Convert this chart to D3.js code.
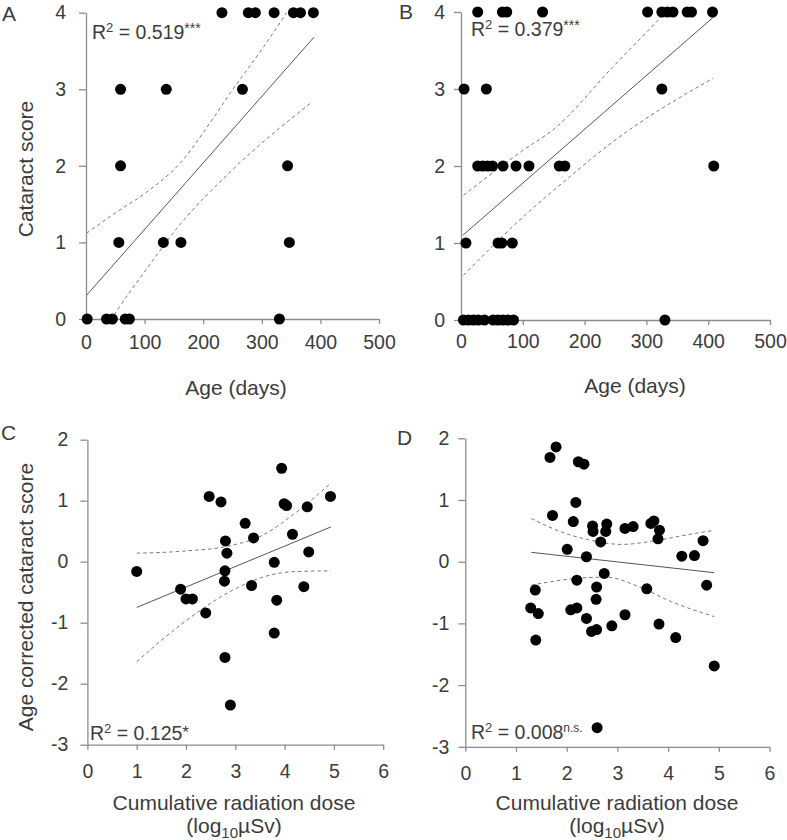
<!DOCTYPE html>
<html>
<head>
<meta charset="utf-8">
<script src="https://cdn.jsdelivr.net/npm/d3@7"></script>
<style>
  body { margin: 0; background: #fff; }
  text { font-family: "Liberation Sans", Arial, sans-serif; fill: #3c3c3c; }
</style>
</head>
<body>
<div id="chart"></div>
<script>
// ---- data ----
// A: age vs cataract score (group 1)
const ageA   = [232, 277, 289, 321, 354, 366, 388, 59, 137, 267, 59, 344, 56, 132, 162, 347, 2, 35, 45, 67, 74, 330];
const scoreA = [4, 4, 4, 4, 4, 4, 4, 3, 3, 3, 2, 2, 1, 1, 1, 1, 0, 0, 0, 0, 0, 0];
const fitA   = [[1, 0.31], [389, 3.68]];
const upperA = [[1, 1.12], [47, 1.37], [104, 1.66], [160, 2.03], [217, 2.62], [246, 2.95], [300, 3.52], [345, 4.03], [389, 4.56]];
const lowerA = [[1, -0.52], [52, 0.10], [104, 0.66], [160, 1.23], [246, 1.92], [385, 2.83]];

// B: age vs cataract score (group 2)
const ageB   = [27, 67, 74, 132, 302, 325, 334, 343, 366, 373, 407,
                5, 41, 325,
                27, 35, 43, 51, 68, 89, 110, 159, 168, 409,
                8, 60, 66, 83,
                4, 12, 20, 28, 38, 52, 60, 68, 76, 85, 330];
const scoreB = [4, 4, 4, 4, 4, 4, 4, 4, 4, 4, 4,
                3, 3, 3,
                2, 2, 2, 2, 2, 2, 2, 2, 2, 2,
                1, 1, 1, 1,
                0, 0, 0, 0, 0, 0, 0, 0, 0, 0, 0];
const fitB   = [[3, 1.10], [408, 3.93]];
const upperB = [[4, 1.62], [98, 2.19], [152, 2.49], [245, 3.28], [322, 3.92], [335, 4.03]];
const lowerB = [[4, 0.58], [98, 1.32], [170, 1.82], [245, 2.31], [408, 3.14]];

// C: dose vs age corrected score (group 1)
const doseC  = [1.00, 1.89, 2.00, 2.13, 2.40, 2.47, 2.71, 2.80, 2.83, 2.79, 2.78, 2.79, 2.90, 3.20, 3.37, 3.33,
                3.94, 3.99, 4.04, 3.79, 3.84, 3.79, 4.16, 4.46, 4.49, 4.39, 4.93];
const corrC  = [-0.16, -0.45, -0.61, -0.61, -0.84, 1.07, 0.98, 0.34, 0.14, -0.15, -0.32, -1.57, -2.35, 0.63, 0.39, -0.39,
                1.53, 0.95, 0.92, -0.01, -0.63, -1.17, 0.45, 0.90, 0.16, -0.41, 1.07];
const fitC   = [[1.0, -0.75], [4.94, 0.57]];
const upperC = [[1.0, 0.14], [1.98, 0.175], [2.94, 0.27], [3.57, 0.44], [4.25, 0.82], [4.94, 1.29]];
const lowerC = [[1.0, -1.64], [1.98, -0.98], [2.94, -0.47], [3.57, -0.25], [4.25, -0.16], [4.94, -0.15]];

// D: dose vs age corrected score (group 2)
const doseD  = [1.79, 1.67, 2.23, 2.34, 2.18, 1.72, 2.13, 2.51, 2.52, 2.79, 2.77, 2.67, 2.01, 2.39, 2.74, 2.20,
                2.59, 2.58, 1.38, 1.29, 1.44, 1.39, 2.08, 2.20, 2.39, 2.49, 2.59, 2.89, 2.60, 3.15, 3.31, 3.66,
                3.72, 3.83, 3.80, 4.27, 4.52, 4.69, 4.76, 3.58, 3.15, 3.82, 4.15, 4.91];
const corrD  = [1.86, 1.69, 1.62, 1.58, 0.96, 0.75, 0.65, 0.58, 0.49, 0.61, 0.49, 0.32, 0.20, 0.08, -0.19, -0.30,
                -0.41, -0.61, -0.46, -0.75, -0.84, -1.27, -0.78, -0.75, -0.92, -1.13, -1.10, -1.04, -2.69, 0.54, 0.57, 0.62,
                0.66, 0.51, 0.37, 0.09, 0.10, 0.34, -0.38, -0.44, -0.86, -1.01, -1.23, -1.69];
const fitD   = [[1.30, 0.152], [4.91, -0.178]];
const upperD = [[1.30, 0.70], [1.87, 0.49], [2.52, 0.34], [3.08, 0.28], [3.74, 0.34], [4.40, 0.44], [4.91, 0.51]];
const lowerD = [[1.30, -0.38], [2.20, -0.27], [2.78, -0.25], [3.41, -0.40], [4.07, -0.65], [4.91, -0.89]];

const ageTicks   = [0, 100, 200, 300, 400, 500];
const scoreTicks = [0, 1, 2, 3, 4];
const doseTicks  = [0, 1, 2, 3, 4, 5, 6];
const corrTicks  = [-3, -2, -1, 0, 1, 2];

const svg = d3.select("#chart")
    .append("svg")
    .attr("width", 787)
    .attr("height", 840);

function panel(cfg) {
    var g = svg.append("g");

    var xScale = d3.scaleLinear().domain(cfg.xDomain).range([cfg.left, cfg.right]);
    var yScale = d3.scaleLinear().domain(cfg.yDomain).range([cfg.bottom, cfg.top]);

    var clipId = "clip" + cfg.id;
    g.append("clipPath").attr("id", clipId)
        .append("rect")
        .attr("x", cfg.left).attr("y", cfg.top)
        .attr("width", cfg.right - cfg.left)
        .attr("height", cfg.bottom - cfg.top);

    // plain hyphen minus and integers, like the figure
    var fmt = d => String(d);

    var xAxis = g.append("g")
        .attr("transform", `translate(0,${cfg.bottom})`)
        .call(d3.axisBottom(xScale).tickValues(cfg.xTicks).tickFormat(fmt)
            .tickSize(5).tickSizeOuter(0).tickPadding(cfg.xPad));
    var yAxis = g.append("g")
        .attr("transform", `translate(${cfg.left},0)`)
        .call(d3.axisLeft(yScale).tickValues(cfg.yTicks).tickFormat(fmt)
            .tickSize(7).tickSizeOuter(0).tickPadding(cfg.yPad));

    [xAxis, yAxis].forEach(function(a) {
        a.attr("font-size", 19.5).attr("font-family", null).attr("color", "#8c8c8c");
        a.selectAll("path, line").attr("stroke-width", 1.3);
    });

    var line = d3.line()
        .x(d => xScale(d[0]))
        .y(d => yScale(d[1]));
    var curve = d3.line()
        .curve(d3.curveMonotoneX)
        .x(d => xScale(d[0]))
        .y(d => yScale(d[1]));

    var fits = g.append("g").attr("clip-path", `url(#${clipId})`).attr("fill", "none");
    fits.append("path").attr("d", line(cfg.fit))
        .attr("stroke", "#555").attr("stroke-width", 1);
    [cfg.upper, cfg.lower].forEach(function(band) {
        fits.append("path").attr("d", curve(band))
            .attr("stroke", "#777").attr("stroke-width", 1)
            .attr("stroke-dasharray", "3.5,3");
    });

    g.append("g").selectAll("circle")
        .data(d3.range(cfg.xs.length))
        .join("circle")
        .attr("cx", i => xScale(cfg.xs[i]))
        .attr("cy", i => yScale(cfg.ys[i]))
        .attr("r", 5.5)
        .attr("fill", "#000");

    // R squared label
    var r2 = g.append("text")
        .attr("x", cfg.r2x).attr("y", cfg.r2y)
        .attr("font-size", 19.5);
    r2.append("tspan").text("R");
    r2.append("tspan").attr("font-size", 13).attr("dy", -7).text("2");
    r2.append("tspan").attr("dy", 7).text(" = " + cfg.r2);
    r2.append("tspan").attr("font-size", cfg.sigSize).attr("dy", cfg.sigDy).text(cfg.sig);

    // panel letter
    g.append("text")
        .attr("x", cfg.letterX).attr("y", cfg.letterY)
        .attr("font-size", 21)
        .text(cfg.letter);

    return g;
}

panel({
    id: "A", letter: "A", letterX: 2, letterY: 21,
    left: 86, right: 379, top: 12.7, bottom: 319,
    xDomain: [0, 500], yDomain: [0, 4], xTicks: ageTicks, yTicks: scoreTicks,
    xPad: 11.5, yPad: 13,
    xs: ageA, ys: scoreA, fit: fitA, upper: upperA, lower: lowerA,
    r2x: 92, r2y: 39, r2: "0.519", sig: "***", sigSize: 14, sigDy: -6
});
panel({
    id: "B", letter: "B", letterX: 399, letterY: 19,
    left: 461, right: 770, top: 12, bottom: 320,
    xDomain: [0, 500], yDomain: [0, 4], xTicks: ageTicks, yTicks: scoreTicks,
    xPad: 9, yPad: 9,
    xs: ageB, ys: scoreB, fit: fitB, upper: upperB, lower: lowerB,
    r2x: 471, r2y: 36, r2: "0.379", sig: "***", sigSize: 14, sigDy: -6
});
panel({
    id: "C", letter: "C", letterX: 1, letterY: 440,
    left: 87.4, right: 383.2, top: 439.7, bottom: 744.7,
    xDomain: [0, 6], yDomain: [-3, 2], xTicks: doseTicks, yTicks: corrTicks,
    xPad: 14.5, yPad: 12,
    xs: doseC, ys: corrC, fit: fitC, upper: upperC, lower: lowerC,
    r2x: 90, r2y: 740, r2: "0.125", sig: "*", sigSize: 17, sigDy: -2
});
panel({
    id: "D", letter: "D", letterX: 397, letterY: 445,
    left: 465.3, right: 769.5, top: 438.3, bottom: 746.8,
    xDomain: [0, 6], yDomain: [-3, 2], xTicks: doseTicks, yTicks: corrTicks,
    xPad: 14.5, yPad: 9,
    xs: doseD, ys: corrD, fit: fitD, upper: upperD, lower: lowerD,
    r2x: 471, r2y: 739, r2: "0.008", sig: "n.s.", sigSize: 12, sigDy: -7
});

// axis titles
function title(x, y, txt, rotate) {
    return svg.append("text")
        .attr("transform", `translate(${x},${y})` + (rotate ? " rotate(-90)" : ""))
        .attr("text-anchor", "middle")
        .attr("font-size", 21)
        .text(txt);
}
title(33, 169, "Cataract score", true);
title(33, 597, "Age corrected cataract score", true);
title(236, 395, "Age (days)");
title(635, 393, "Age (days)");
title(234, 810, "Cumulative radiation dose");
title(617, 810, "Cumulative radiation dose");

[234, 617].forEach(function(cx) {
    var t = svg.append("text")
        .attr("x", cx).attr("y", 833)
        .attr("text-anchor", "middle")
        .attr("font-size", 21);
    t.append("tspan").text("(log");
    t.append("tspan").attr("font-size", 15).attr("dy", 5).text("10");
    t.append("tspan").attr("dy", -5).text("µSv)");
});
</script>
</body>
</html>
